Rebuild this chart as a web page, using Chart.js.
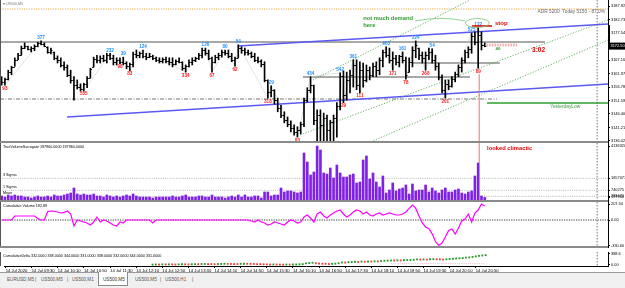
<!DOCTYPE html>
<html>
<head>
<meta charset="utf-8">
<script src="https://cdn.jsdelivr.net/npm/chart.js@4.4.1/dist/chart.umd.min.js"></script>
<style>
  html, body { margin: 0; padding: 0; background: #fff; }
  #wrap { position: relative; width: 625px; height: 288px; overflow: hidden; font-family: "Liberation Sans", Arial, sans-serif; }
  #wrap canvas { position: absolute; left: 0; }
  #tabs { position: absolute; left: 0; top: 272px; width: 625px; height: 16px; background: #f0f0f0; border-top: 1px solid #9a9a9a; box-sizing: border-box; }
  #tabs span { position: absolute; top: 4px; font-size: 4.6px; line-height: 6px; color: #555; white-space: nowrap; }
  #tabs .act { top: -1px; height: 14px; width: 30px; background: #fff; border: 1px solid #8a8a8a; border-top: none; box-sizing: border-box; }
  #tabs .act i { position: absolute; left: 4px; top: 5px; font-style: normal; color: #333; }
</style>
</head>
<body>
<div id="wrap">
  <canvas id="price" width="625" height="143" style="top:0"></canvas>
  <canvas id="vol" width="625" height="59" style="top:143px"></canvas>
  <canvas id="cum" width="625" height="46" style="top:202px"></canvas>
  <canvas id="delta" width="625" height="24" style="top:248px"></canvas>
  <div id="tabs">
    <span style="left:7px">EURUSD,M5</span><span style="left:35px">|</span>
    <span style="left:41px">US500,M5</span><span style="left:67px">|</span>
    <span style="left:72px">US500,M1</span>
    <span class="act" style="left:98px"><i>US500,M5</i></span>
    <span style="left:135px">US500,M5</span><span style="left:160px">|</span>
    <span style="left:165px">US500,H1</span><span style="left:192px">|</span>
  </div>
</div>
<script>
// ---- data (US500 M5, 14 Jul 2020) ----
const N_SLOTS = 185; // bar slots across the window, the last ones are empty (chart shift)
const slots = Array.from({ length: N_SLOTS }, (_, i) => i);

const timeTicks = ['14 Jul 2020', '14 Jul 09:30', '14 Jul 10:10', '14 Jul 10:50', '14 Jul 11:30', '14 Jul 12:10',
  '14 Jul 12:50', '14 Jul 13:30', '14 Jul 14:10', '14 Jul 14:50', '14 Jul 15:30', '14 Jul 16:10', '14 Jul 16:50',
  '14 Jul 17:30', '14 Jul 18:10', '14 Jul 18:50', '14 Jul 19:30', '14 Jul 20:10', '14 Jul 20:50'];

const priceTicks = [3187.92, 3182.73, 3177.54, 3172.35, 3167.16, 3161.97, 3156.78, 3151.59, 3146.40, 3141.21, 3136.02];

const opens = [3159.50, 3158.75, 3159.75, 3162.50, 3164.50, 3167.25, 3169.00, 3171.75, 3172.50, 3171.50,
  3171.75, 3172.50, 3173.75, 3173.25, 3172.25, 3170.25, 3170.25, 3168.00, 3167.25, 3165.25,
  3164.50, 3161.50, 3159.50, 3157.50, 3156.75, 3156.00, 3158.00, 3160.25, 3164.50, 3167.50,
  3167.25, 3168.00, 3167.25, 3169.00, 3168.00, 3166.50, 3167.25, 3166.50, 3166.00, 3164.75,
  3165.75, 3169.50, 3169.00, 3169.75, 3168.75, 3168.25, 3168.75, 3168.00, 3167.25, 3166.75,
  3167.50, 3166.75, 3166.50, 3165.75, 3166.75, 3166.50, 3164.00, 3164.75, 3166.50, 3167.25,
  3168.00, 3169.00, 3171.00, 3169.75, 3168.00, 3166.50, 3168.25, 3169.00, 3170.25, 3169.75,
  3168.75, 3167.25, 3168.00, 3171.75, 3171.00, 3170.25, 3169.75, 3168.75, 3167.25, 3166.75,
  3165.75, 3159.50, 3154.75, 3155.75, 3151.75, 3148.75, 3146.00, 3144.00, 3142.50, 3141.00,
  3139.50, 3140.25, 3142.50, 3151.75, 3155.75, 3157.50, 3144.00, 3146.00, 3142.25, 3145.00,
  3140.25, 3143.25, 3145.00, 3149.50, 3161.00, 3153.75, 3159.50, 3161.50, 3165.25, 3157.50,
  3163.25, 3159.50, 3163.25, 3161.50, 3164.75, 3163.25, 3167.25, 3170.25, 3169.00, 3167.25,
  3168.00, 3166.50, 3168.75, 3167.25, 3162.50, 3166.50, 3171.00, 3171.75, 3169.00, 3168.00,
  3169.00, 3170.25, 3167.25, 3164.75, 3160.75, 3155.75, 3158.00, 3157.25, 3159.75, 3161.75,
  3164.50, 3167.25, 3170.25, 3171.50, 3176.50, 3174.00, 3176.75, 3173.00];
const highs = [3160.75, 3160.25, 3163.25, 3164.75, 3168.00, 3169.75, 3172.50, 3173.75, 3172.50, 3172.25,
  3173.00, 3174.00, 3174.50, 3173.75, 3172.25, 3171.75, 3170.25, 3168.75, 3168.00, 3166.50,
  3165.25, 3163.25, 3160.75, 3159.50, 3158.00, 3158.25, 3160.75, 3164.00, 3168.25, 3169.00,
  3168.75, 3169.00, 3169.75, 3169.75, 3169.00, 3168.00, 3168.00, 3168.25, 3166.50, 3166.00,
  3170.25, 3171.00, 3170.25, 3171.00, 3169.75, 3169.75, 3169.00, 3168.25, 3168.00, 3168.00,
  3168.25, 3168.00, 3168.00, 3167.25, 3168.00, 3166.50, 3165.25, 3167.25, 3168.00, 3168.25,
  3169.75, 3171.75, 3171.75, 3171.00, 3168.25, 3169.00, 3169.75, 3171.00, 3171.00, 3171.00,
  3169.75, 3168.25, 3173.00, 3172.25, 3171.75, 3171.00, 3170.25, 3169.75, 3168.25, 3167.25,
  3166.50, 3159.50, 3157.25, 3155.75, 3152.50, 3149.75, 3147.25, 3145.25, 3143.75, 3142.25,
  3141.50, 3143.25, 3152.50, 3156.50, 3160.75, 3157.50, 3148.00, 3148.00, 3146.75, 3146.00,
  3144.00, 3146.00, 3150.75, 3162.25, 3163.00, 3162.50, 3163.25, 3167.25, 3167.25, 3166.50,
  3166.00, 3165.25, 3164.50, 3166.00, 3166.50, 3168.00, 3171.00, 3172.25, 3171.75, 3170.25,
  3169.00, 3169.00, 3170.25, 3168.25, 3168.00, 3172.25, 3174.50, 3171.75, 3170.25, 3170.25,
  3171.75, 3171.50, 3169.00, 3166.00, 3161.50, 3159.50, 3159.50, 3160.75, 3162.50, 3165.25,
  3168.00, 3171.00, 3172.25, 3177.50, 3178.00, 3179.75, 3178.00, 3173.75];
const lows = [3157.50, 3157.50, 3159.50, 3161.50, 3164.75, 3167.25, 3169.00, 3171.50, 3171.00, 3170.25,
  3170.75, 3172.25, 3173.00, 3172.25, 3169.75, 3169.50, 3167.25, 3166.00, 3164.50, 3163.25,
  3160.75, 3158.25, 3151.75, 3156.00, 3155.25, 3155.25, 3156.50, 3160.25, 3164.50, 3166.00,
  3166.00, 3166.50, 3166.00, 3167.25, 3165.25, 3165.25, 3165.75, 3165.25, 3163.75, 3163.00,
  3164.50, 3168.00, 3168.00, 3168.00, 3167.25, 3168.00, 3167.25, 3166.50, 3166.00, 3166.00,
  3166.00, 3165.25, 3164.50, 3165.25, 3166.00, 3163.25, 3162.50, 3164.50, 3165.25, 3166.50,
  3167.25, 3168.00, 3169.00, 3167.25, 3162.50, 3166.00, 3167.25, 3168.25, 3169.00, 3168.00,
  3166.50, 3164.75, 3168.00, 3169.75, 3169.00, 3169.00, 3168.00, 3166.50, 3166.00, 3164.50,
  3158.75, 3152.50, 3153.00, 3150.25, 3147.25, 3145.00, 3143.00, 3141.50, 3139.50, 3138.25,
  3137.50, 3138.75, 3141.50, 3151.00, 3154.50, 3142.25, 3135.25, 3135.25, 3135.25, 3135.25,
  3135.25, 3136.00, 3137.50, 3148.00, 3150.75, 3151.75, 3154.50, 3156.75, 3155.75, 3154.50,
  3156.75, 3158.75, 3159.50, 3160.75, 3160.75, 3161.50, 3164.50, 3168.25, 3166.00, 3163.25,
  3165.25, 3164.50, 3166.00, 3159.75, 3162.50, 3164.50, 3168.00, 3167.25, 3166.00, 3163.25,
  3167.25, 3166.00, 3163.25, 3159.50, 3154.50, 3152.50, 3155.75, 3156.75, 3158.75, 3160.75,
  3162.50, 3166.00, 3168.00, 3169.75, 3173.00, 3164.00, 3171.00, 3172.25];
const closes = [3158.75, 3159.75, 3162.50, 3164.50, 3167.25, 3169.00, 3171.75, 3172.50, 3171.50, 3171.75,
  3172.50, 3173.75, 3173.25, 3172.50, 3170.25, 3171.00, 3168.00, 3167.25, 3165.25, 3164.50,
  3161.50, 3159.50, 3157.50, 3156.75, 3156.00, 3158.00, 3160.25, 3163.75, 3167.50, 3167.25,
  3168.00, 3167.25, 3169.00, 3168.00, 3166.50, 3167.25, 3166.50, 3166.00, 3164.75, 3165.75,
  3169.50, 3169.00, 3169.75, 3168.75, 3168.25, 3168.75, 3168.00, 3167.25, 3166.75, 3167.50,
  3166.75, 3166.50, 3165.75, 3166.75, 3166.50, 3164.00, 3164.75, 3166.50, 3167.25, 3168.00,
  3169.00, 3171.00, 3169.75, 3168.00, 3166.50, 3168.25, 3169.00, 3170.25, 3169.75, 3168.75,
  3167.25, 3168.00, 3171.75, 3171.00, 3170.25, 3169.75, 3168.75, 3167.25, 3166.75, 3165.75,
  3159.50, 3154.75, 3155.75, 3151.75, 3148.75, 3146.00, 3144.00, 3142.50, 3141.00, 3139.50,
  3140.25, 3142.50, 3151.75, 3155.75, 3157.50, 3144.00, 3146.00, 3142.25, 3145.00, 3140.25,
  3143.25, 3145.00, 3149.50, 3161.00, 3153.75, 3159.50, 3161.50, 3165.25, 3157.50, 3163.25,
  3159.50, 3163.25, 3161.50, 3164.75, 3163.25, 3167.25, 3170.25, 3169.00, 3167.25, 3168.00,
  3166.50, 3168.75, 3167.25, 3161.50, 3166.50, 3171.00, 3173.00, 3169.00, 3168.00, 3169.00,
  3170.25, 3167.25, 3164.75, 3160.75, 3155.75, 3158.00, 3157.25, 3159.75, 3161.75, 3164.50,
  3167.25, 3170.25, 3171.50, 3176.50, 3174.00, 3176.75, 3173.00, 3172.50];

// swing labels [bar, text]
const swingHighs = [[12, '377'], [33, '232'], [37, '39'], [43, '124'], [62, '126'], [68, '80'], [72, '54'],
  [82, '29'], [94, '434'], [103, '542'], [107, '361'], [117, '403'], [122, '161'], [126, '224'],
  [131, '54'], [143, '525'], [145, '122']];
const swingLows = [[1, '93'], [25, '555'], [36, '98'], [39, '83'], [56, '334'], [64, '67'], [71, '62'],
  [81, '318'], [90, '83'], [104, '29'], [109, '111'], [119, '171'], [123, '78'], [129, '268'],
  [135, '201'], [145, '89']];

// drawn objects on the price window, in bar / price units
const adrLevel = 3186.77;
const greyLevels = [[-0.5, 165.3, 3174.09], [125, 151.6, 3166.01], [91.7, 142.5, 3160.63]];
const dashDotLevel = [-0.5, 150.7, 3152.17];
const blueLines = [[72, 3172.55, 184.5, 3181.00], [19.9, 3145.25, 184.5, 3157.94]];
const greenChannels = [[94.7, 3159.48, 142.5, 3190.23], [90.8, 3138.34, 184.5, 3182.54], [111.5, 3135.26, 184.5, 3174.85]];
const yesterdayLow = [147.7, 184.5, 3150.64];
const stopLine = [143.1, 149.2, 3180.24];
const spreadBox = [147.3, 156.8, 3172.95];
const circleAt = [144.7, 3181.39];
const climaxBar = 145;
const cursorBar = 181.2;

const volume = [306400, 229800, 383000, 306400, 383000, 306400, 306400, 229800, 229800, 153200,
  229800, 306400, 229800, 229800, 306400, 229800, 383000, 306400, 306400, 383000,
  459600, 536200, 919200, 459600, 383000, 459600, 383000, 383000, 459600, 306400,
  306400, 229800, 383000, 306400, 229800, 306400, 229800, 306400, 383000, 306400,
  459600, 306400, 229800, 229800, 229800, 229800, 153200, 229800, 229800, 229800,
  229800, 229800, 306400, 229800, 229800, 306400, 383000, 229800, 229800, 229800,
  306400, 306400, 229800, 229800, 383000, 229800, 229800, 229800, 153200, 229800,
  306400, 229800, 383000, 229800, 383000, 229800, 229800, 306400, 306400, 153200,
  612800, 612800, 306400, 383000, 383000, 919200, 612800, 689400, 689400, 612800,
  536200, 612800, 3600200, 2910800, 1915000, 2144800, 4136320, 3830000, 2068200, 1991600,
  2451200, 1685200, 2681000, 2068200, 1761800, 1761800, 1915000, 1991600, 1302200, 1378800,
  3064000, 3370400, 1608600, 2068200, 1378800, 995800, 1838400, 536200, 766000, 1302200,
  689400, 842600, 919200, 1149000, 459600, 1225600, 689400, 766000, 766000, 1149000,
  612800, 919200, 689400, 536200, 766000, 919200, 612800, 612800, 766000, 842600,
  536200, 459600, 612800, 689400, 1838400, 2834200, 306400, 197960];
const volTicks = [4136320, 1657077, 740275, 283470, 197960];
const sigma3 = 1657077;
const sigma1 = 740275;
const volMean = 283470;

const cumVolume = [0, 0, 0, 0, 52, 52, 52, 52, 52, 52,
  52, 20, 0, 0, 110, 117, 114, 104, 91, 100,
  117, 78, -78, 0, -13, -26, -39, -65, -26, 39,
  -26, 0, -13, -39, -65, -78, -26, -39, 0, 0,
  0, 0, 0, 0, 0, 0, -39, 0, 0, 0,
  0, 0, 0, 0, 0, 0, 0, 0, 0, 0,
  0, 0, 0, 0, 0, 0, 0, 0, 0, 0,
  0, 0, 0, 0, 0, 0, -13, -26, 0, -26,
  -39, -65, -52, -26, -39, -52, -65, -26, 0, -13,
  -39, -26, 39, 65, 26, -26, 78, 104, 52, 26,
  65, 91, 117, 130, 78, 39, 65, 104, 130, 117,
  78, 104, 65, 52, 78, 91, 65, 78, 91, 78,
  65, 65, 78, 104, 150, 195, 150, 52, -39, -90,
  -113, -180, -280, -330.6, -300, -220, -135, -117, -182, -104,
  -13, 13, 78, -26, 91, 130, 207.34, 182.89];
const cumTicks = [207.34, 0, -330.6];

const deltaStart = 45;
const deltaValues = [8, 12, 10, 15, 14, 18, 16, 12, 15, 20, 18, 14, 20, 24, 22, 28, 30, 27, 25, 22,
  28, 32, 35, 33, 30, 28, 26, 34, 38, 36, 33, 30, 26, 24, 20, 16, 10, 14, 12, 8,
  6, 10, 8, 12, 14, 18, 24, 50, 62, 70, 55, 45, 38, 35, 28, 33, 40, 55, 80, 78,
  90, 95, 105, 98, 110, 106, 115, 112, 120, 118, 130, 140, 145, 150, 148, 155, 150, 158, 162, 165,
  175, 185, 182, 186, 180, 190, 195, 192, 188, 180, 190, 200, 210, 218, 225, 232, 245, 255, 270, 290,
  305, 320, 332];
const deltaTicks = [388.6, 0];

// ---- drawing helpers ----
const FONT = '"Liberation Sans", Arial, sans-serif';
const X = (c, i) => c.scales.x.getPixelForValue(i);
const Y = (c, v) => c.scales.y.getPixelForValue(v);

function seg(ctx, x1, y1, x2, y2, color, width, dash) {
  ctx.save();
  ctx.strokeStyle = color;
  ctx.lineWidth = width;
  ctx.setLineDash(dash || []);
  ctx.beginPath();
  ctx.moveTo(x1, y1);
  ctx.lineTo(x2, y2);
  ctx.stroke();
  ctx.restore();
}
function txt(ctx, s, x, y, size, color, bold, align) {
  ctx.save();
  ctx.font = (bold ? 'bold ' : '') + size + 'px ' + FONT;
  ctx.fillStyle = color;
  ctx.textAlign = align || 'left';
  ctx.textBaseline = 'middle';
  ctx.fillText(s, x, y);
  ctx.restore();
}
function clipArea(c) {
  const a = c.chartArea;
  c.ctx.beginPath();
  c.ctx.rect(a.left, a.top, a.right - a.left, a.bottom - a.top);
  c.ctx.clip();
}
function frame(c, last) {
  const ctx = c.ctx, a = c.chartArea;
  seg(ctx, X(c, cursorBar), a.top, X(c, cursorBar), a.bottom, '#555', 0.8, [1.5, 1.5]);
  seg(ctx, 0.5, a.top, 0.5, a.bottom, '#555', 1);
  if (!last) seg(ctx, 0, a.bottom - 1, a.right, a.bottom - 1, '#8a8a8a', 2);
}

const xHidden = { type: 'category', offset: true, display: false };
const xShown = {
  type: 'category', offset: true, position: 'bottom',
  border: { display: true, color: '#000', width: 1 },
  grid: { display: true, drawOnChartArea: false, tickLength: 2, color: '#000', offset: false },
  ticks: {
    autoSkip: false, maxRotation: 0, minRotation: 0, align: 'start', padding: 0,
    color: '#000', font: { family: FONT, size: 4.2 },
    callback: v => timeTicks[v / 8]
  },
  afterBuildTicks: s => { s.ticks = s.ticks.filter(t => t.value % 8 === 0); },
  afterFit: s => { s.height = 6; s.paddingLeft = 0; s.paddingRight = 0; }
};

function panelOptions(yMin, yMax, yTicks, fmt, showX) {
  return {
    responsive: false,
    animation: false,
    events: [],
    layout: { padding: 0 },
    plugins: { legend: { display: false }, tooltip: { enabled: false } },
    scales: {
      x: showX ? xShown : xHidden,
      y: {
        position: 'right', min: yMin, max: yMax,
        border: { display: true, color: '#000', width: 1 },
        grid: { display: true, drawOnChartArea: false, tickLength: 2, color: '#000' },
        ticks: { autoSkip: false, padding: 1, color: '#000', font: { family: FONT, size: 3.9 }, callback: fmt },
        afterBuildTicks: s => { s.ticks = yTicks.map(v => ({ value: v })); },
        afterFit: s => { s.width = 17; s.paddingTop = 0; s.paddingBottom = 0; }
      }
    }
  };
}

// ---- price window ----
const pricePanel = {
  id: 'pricePanel',
  beforeDatasetsDraw(c) {
    const ctx = c.ctx, a = c.chartArea;
    ctx.save();
    clipArea(c);
    seg(ctx, a.left, Y(c, adrLevel), a.right, Y(c, adrLevel), '#f0a030', 0.9, [1.2, 1.2]);
    greyLevels.forEach(([i1, i2, p]) => seg(ctx, X(c, i1), Y(c, p), X(c, i2), Y(c, p), '#8c8c8c', 1.3));
    seg(ctx, X(c, dashDotLevel[0]), Y(c, dashDotLevel[2]), X(c, dashDotLevel[1]), Y(c, dashDotLevel[2]), '#555', 0.8, [4, 1.5, 1, 1.5]);
    // faint zigzag between swing points
    const pts = swingHighs.map(([i]) => [i, highs[i]]).concat(swingLows.map(([i]) => [i, lows[i]])).sort((p, q) => p[0] - q[0]);
    ctx.save();
    ctx.strokeStyle = '#cfcfcf'; ctx.lineWidth = 0.6;
    ctx.beginPath();
    pts.forEach(([i, p], k) => k ? ctx.lineTo(X(c, i), Y(c, p)) : ctx.moveTo(X(c, i), Y(c, p)));
    ctx.stroke();
    ctx.restore();
    greenChannels.forEach(([i1, p1, i2, p2]) => seg(ctx, X(c, i1), Y(c, p1), X(c, i2), Y(c, p2), '#3f9f3f', 0.8, [1.2, 1.6]));
    blueLines.forEach(([i1, p1, i2, p2]) => seg(ctx, X(c, i1), Y(c, p1), X(c, i2), Y(c, p2), '#5a5af2', 1.3));
    seg(ctx, X(c, yesterdayLow[0]), Y(c, yesterdayLow[2]), X(c, yesterdayLow[1]), Y(c, yesterdayLow[2]), '#62b862', 2);
    ctx.restore();
  },
  afterDatasetsDraw(c) {
    const ctx = c.ctx, a = c.chartArea;
    ctx.save();
    clipArea(c);
    // open / close ticks of the OHLC bars
    ctx.strokeStyle = '#000';
    ctx.lineWidth = 1;
    ctx.beginPath();
    opens.forEach((o, i) => {
      const x = X(c, i);
      const yo = Math.round(Y(c, o)) + 0.5, yc = Math.round(Y(c, closes[i])) + 0.5;
      ctx.moveTo(x - 1.6, yo); ctx.lineTo(x, yo);
      ctx.moveTo(x, yc); ctx.lineTo(x + 1.6, yc);
    });
    ctx.stroke();
    swingHighs.forEach(([i, s]) => txt(ctx, s, X(c, i), Y(c, highs[i]) - 3, 4.6, '#1e90ff', true, 'center'));
    swingLows.forEach(([i, s]) => txt(ctx, s, X(c, i), Y(c, lows[i]) + 3.2, 4.6, '#ff1a1a', true, 'center'));
    // climactic bar marker
    seg(ctx, X(c, climaxBar) + 1, Y(c, lows[climaxBar]) + 6, X(c, climaxBar) + 1, a.bottom, '#f07070', 1);
    seg(ctx, X(c, stopLine[0]), Y(c, stopLine[2]), X(c, stopLine[1]), Y(c, stopLine[2]), '#e00000', 1.5);
    seg(ctx, X(c, spreadBox[0]), Y(c, spreadBox[2]), X(c, spreadBox[1]), Y(c, spreadBox[2]), '#f09090', 3, [0.7, 0.9]);
    ctx.save();
    ctx.strokeStyle = '#78c878'; ctx.lineWidth = 0.8;
    ctx.beginPath();
    ctx.ellipse(X(c, circleAt[0]), Y(c, circleAt[1]), 12, 4.5, 0, 0, Math.PI * 2);
    ctx.stroke();
    ctx.beginPath();
    ctx.moveTo(X(c, 125.8), Y(c, 3182.16));
    ctx.quadraticCurveTo(X(c, 134), Y(c, 3184.2), X(c, 141), Y(c, 3182.16));
    ctx.stroke();
    ctx.restore();
    txt(ctx, 'not much demand', X(c, 110), Y(c, 3183.31), 5.8, '#2e9a2e', true);
    txt(ctx, 'here', X(c, 110), Y(c, 3180.62), 5.8, '#2e9a2e', true);
    txt(ctx, 'stop', X(c, 150.1), Y(c, 3181.39), 6, '#e00000', true);
    txt(ctx, '40', X(c, 150.3), Y(c, 3171.39), 4.4, '#2e9a2e', true);
    txt(ctx, '3:02', X(c, 161.4), Y(c, 3171.01), 6.5, '#e00000', true);
    txt(ctx, 'YesterdayLow', X(c, 166.9), Y(c, 3149.10), 4.8, '#3a9a3a', false);
    txt(ctx, 'ADR 5200  Today 5150 - 87.0%', a.right - 3, 12, 4.8, '#666', false, 'right');
    txt(ctx, '\u25BE US500,M5', 3, 3.5, 3.6, '#777', false);
    ctx.restore();
  },
  afterDraw(c) {
    const ctx = c.ctx, a = c.chartArea;
    frame(c, false);
    seg(ctx, a.right + 1, Y(c, 3180.6), a.right + 1, Y(c, 3173.0), '#000', 2);
    const last = closes[closes.length - 1];
    const y = Y(c, last);
    ctx.fillStyle = '#000';
    ctx.fillRect(a.right, y - 3.5, 17, 7);
    txt(ctx, last.toFixed(2), a.right + 2.5, y, 3.9, '#fff', false);
  }
};

new Chart(document.getElementById('price'), {
  type: 'bar',
  data: {
    labels: slots,
    datasets: [{
      data: lows.map((l, i) => [l, highs[i]]),
      backgroundColor: '#000',
      barThickness: 1,
      borderWidth: 0,
      grouped: false
    }]
  },
  options: panelOptions(3135.25, 3190.23, priceTicks, v => v.toFixed(2), false),
  plugins: [pricePanel]
});

// ---- volume window ----
const volPanel = {
  id: 'volPanel',
  beforeDatasetsDraw(c) {
    const ctx = c.ctx, a = c.chartArea;
    [sigma3, sigma1, volMean].forEach(v => seg(ctx, a.left, Y(c, v), a.right, Y(c, v), '#9a9a9a', 0.7, [1, 1.2]));
    txt(ctx, '3 Sigma', 3, Y(c, sigma3) - 3, 3.7, '#000');
    txt(ctx, '1 Sigma', 3, Y(c, sigma1) - 3, 3.7, '#000');
    txt(ctx, 'Mean', 3, Y(c, volMean) - 3.5, 3.7, '#000');
  },
  afterDraw(c) {
    const ctx = c.ctx, a = c.chartArea;
    txt(ctx, 'TrueVolumeSurrogate 197960.0000 197960.0000', 3, a.top + 3.5, 3.7, '#000');
    seg(ctx, X(c, climaxBar) + 1, a.top, X(c, climaxBar) + 1, Y(c, volume[climaxBar]), '#f07070', 1);
    txt(ctx, 'looked climactic', X(c, 147.7), Y(c, 3983000), 5.8, '#e00000', true);
    frame(c, false);
  }
};

new Chart(document.getElementById('vol'), {
  type: 'bar',
  data: {
    labels: slots,
    datasets: [{ data: volume, backgroundColor: '#7f22e6', barThickness: 2, borderWidth: 0 }]
  },
  options: panelOptions(-153200, 4366200, volTicks, v => String(Math.round(v)), false),
  plugins: [volPanel]
});

// ---- cumulative volume window ----
const cumPanel = {
  id: 'cumPanel',
  beforeDatasetsDraw(c) {
    const a = c.chartArea;
    seg(c.ctx, a.left, Y(c, 0), a.right, Y(c, 0), '#000', 0.8, [1.2, 1.2]);
  },
  afterDraw(c) {
    txt(c.ctx, 'Cumulative Volume 182.89', 3, c.chartArea.top + 3.5, 3.7, '#000');
    frame(c, false);
  }
};

new Chart(document.getElementById('cum'), {
  type: 'line',
  data: {
    labels: slots,
    datasets: [{ data: cumVolume, borderColor: '#ff00ff', borderWidth: 1.2, pointRadius: 0, tension: 0 }]
  },
  options: panelOptions(-364, 234, cumTicks, v => v.toFixed(2), false),
  plugins: [cumPanel]
});

// ---- cumulative delta window ----
const deltaSeries = slots.map(i => (i >= deltaStart && i - deltaStart < deltaValues.length) ? deltaValues[i - deltaStart] : null);
const deltaPanel = {
  id: 'deltaPanel',
  beforeDatasetsDraw(c) {
    seg(c.ctx, X(c, 118), Y(c, 40), X(c, 147), Y(c, 40), '#f0a0c0', 0.8, [1, 1.2]);
  },
  afterDraw(c) {
    txt(c.ctx, 'CumulativeDelta 332.0000 338.0000 344.0000 331.0000 338.0000 332.0000 344.0000 331.0000', 3, c.chartArea.top + 3.5, 3.7, '#000');
    frame(c, true);
  }
};

new Chart(document.getElementById('delta'), {
  type: 'line',
  data: {
    labels: slots,
    datasets: [{
      data: deltaSeries,
      showLine: false,
      pointStyle: 'rect',
      pointRadius: 1.3,
      pointBorderWidth: 0,
      pointBackgroundColor: ctx => {
        const i = ctx.dataIndex;
        const prev = deltaSeries[i - 1];
        return (prev == null || deltaSeries[i] >= prev) ? '#1f9a1f' : '#f03c3c';
      }
    }]
  },
  options: panelOptions(-40, 440, deltaTicks, v => (v === 0 ? '0.00' : v.toFixed(1)), true),
  plugins: [deltaPanel]
});
</script>
</body>
</html>
